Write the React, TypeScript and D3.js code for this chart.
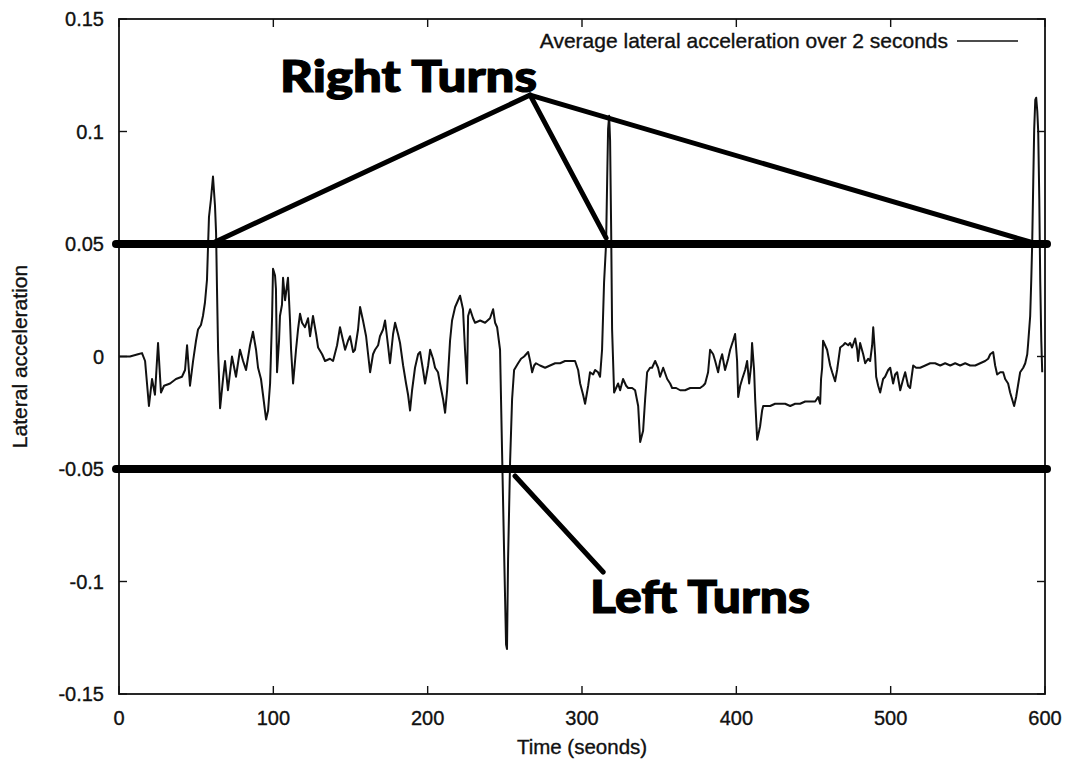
import React, { useEffect, useRef } from 'react';
import * as d3 from 'd3';

// time (s) of each sample
const times = [
  0, 7.1, 12.3, 14.9, 16.9, 19.4, 21.4, 23.3, 25.3, 27.2, 29.2, 33.1, 36.9, 40.8, 42.8, 44.1, 46.0, 48.0, 49.9, 51.2,
  53.1, 54.4, 55.7, 57.0, 58.3, 59.6, 60.9, 62.2, 62.9, 63.5, 64.2, 65.5, 67.4, 68.7, 70.6, 73.2, 75.8, 78.4, 80.4, 82.3,
  84.9, 86.8, 88.8, 90.1, 92.0, 93.3, 95.3, 96.6, 97.9, 99.2, 99.8, 101.1, 101.7, 102.4, 103.7, 104.3, 105.6, 106.3, 107.6, 109.5,
  110.8, 111.5, 112.8, 114.7, 116.0, 117.3, 118.6, 120.5, 122.5, 123.8, 125.7, 127.7, 129.0, 131.6, 133.5, 136.7, 138.7, 141.3, 143.2, 145.2,
  146.5, 148.4, 149.7, 151.7, 152.9, 154.9, 156.2, 158.1, 160.1, 161.4, 162.7, 164.6, 165.9, 167.9, 169.1, 171.1, 172.4, 174.3, 175.6, 177.6,
  178.9, 180.8, 182.1, 184.1, 186.0, 187.3, 188.6, 189.9, 191.8, 193.8, 195.1, 197.0, 198.3, 200.3, 201.6, 203.5, 204.8, 206.7, 208.0, 210.0,
  211.3, 212.6, 214.5, 215.8, 217.8, 219.7, 221.0, 222.9, 224.2, 225.5, 226.2, 227.5, 229.4, 230.7, 234.0, 237.2, 240.4, 242.4, 243.7, 245.0,
  246.9, 248.2, 249.5, 250.8, 251.4, 252.1, 253.4, 254.7, 256.0, 258.6, 260.5, 262.5, 265.1, 266.4, 267.7, 269.0, 270.2, 272.8, 276.1, 279.3,
  282.6, 285.8, 289.0, 292.3, 295.5, 297.5, 298.8, 300.7, 302.0, 304.0, 305.2, 307.2, 308.5, 310.4, 311.7, 313.0, 314.3, 315.6, 316.3, 316.9,
  317.6, 318.2, 318.9, 319.5, 320.8, 323.4, 324.7, 326.6, 328.6, 329.9, 332.5, 334.4, 336.4, 337.7, 339.6, 340.9, 342.2, 344.1, 345.4, 347.4,
  349.3, 350.6, 352.6, 355.2, 357.1, 358.4, 361.0, 363.6, 366.8, 370.1, 373.3, 376.5, 378.5, 379.8, 381.7, 383.0, 385.0, 386.3, 388.2, 389.5,
  390.8, 392.7, 394.7, 396.0, 397.9, 399.2, 400.5, 401.2, 402.5, 403.8, 405.7, 407.0, 408.3, 409.6, 410.2, 411.5, 412.2, 413.5, 414.8, 415.4,
  416.7, 417.4, 420.0, 421.9, 425.1, 428.4, 431.6, 434.9, 438.1, 441.3, 444.6, 447.8, 451.1, 453.0, 454.3, 454.9, 455.6, 456.2, 457.5, 458.8,
  460.8, 462.1, 464.0, 465.3, 467.3, 469.2, 470.5, 472.5, 473.7, 475.0, 477.0, 478.3, 478.9, 480.2, 482.2, 483.5, 485.4, 486.7, 488.0, 488.7,
  489.9, 490.6, 491.9, 493.2, 495.1, 496.4, 498.4, 499.7, 501.6, 502.9, 504.2, 506.2, 508.1, 509.4, 511.3, 512.6, 514.6, 516.5, 519.1, 522.4,
  525.6, 528.8, 532.1, 535.3, 538.6, 541.8, 545.0, 548.3, 551.5, 554.8, 558.0, 561.2, 563.2, 564.5, 566.4, 567.7, 569.0, 571.0, 572.9, 574.2,
  576.1, 577.4, 578.7, 580.0, 581.3, 582.0, 583.9, 585.9, 587.2, 588.5, 589.1, 590.4, 591.1, 591.7, 592.4, 593.0, 593.7, 594.3, 595.0, 595.6,
  596.3, 596.9, 597.6, 598.2
];

// average lateral acceleration over 2 seconds
const accel = [
  0.000, 0.000, 0.001, 0.0015, -0.002, -0.022, -0.010, -0.017, 0.006, -0.016, -0.013, -0.012, -0.010, -0.009, -0.006, 0.005, -0.013, -0.002, 0.007, 0.012,
  0.014, 0.018, 0.024, 0.034, 0.062, 0.070, 0.080, 0.067, 0.055, 0.030, 0.003, -0.023, -0.010, -0.002, -0.015, 0.000, -0.009, 0.003, -0.002, -0.006,
  0.005, 0.011, 0.003, -0.005, -0.010, -0.017, -0.028, -0.024, -0.012, 0.018, 0.039, 0.036, 0.030, -0.007, 0.007, 0.018, 0.023, 0.035, 0.025, 0.035,
  0.016, 0.003, -0.012, 0.003, 0.012, 0.019, 0.015, 0.013, 0.017, 0.009, 0.018, 0.010, 0.004, 0.001, -0.002, -0.001, -0.002, 0.005, 0.013, 0.007,
  0.003, 0.007, 0.009, 0.002, 0.003, 0.012, 0.022, 0.016, 0.009, 0.001, -0.007, 0.001, 0.003, 0.005, 0.009, 0.012, 0.016, 0.005, -0.003, 0.010,
  0.015, 0.010, 0.006, -0.004, -0.012, -0.017, -0.024, -0.015, -0.005, 0.001, 0.002, -0.006, -0.012, -0.004, 0.003, -0.001, -0.005, -0.007, -0.012, -0.019,
  -0.025, -0.015, 0.007, 0.016, 0.022, 0.025, 0.027, 0.021, 0.003, -0.012, 0.018, 0.021, 0.017, 0.015, 0.016, 0.015, 0.017, 0.021, 0.015, 0.013,
  0.003, -0.042, -0.086, -0.128, -0.130, -0.090, -0.047, -0.019, -0.006, -0.003, -0.001, 0.000, 0.002, -0.002, -0.007, -0.004, -0.003, -0.004, -0.005, -0.004,
  -0.003, -0.003, -0.002, -0.002, -0.002, -0.006, -0.012, -0.017, -0.021, -0.013, -0.007, -0.008, -0.006, -0.007, -0.009, 0.003, 0.033, 0.050, 0.078, 0.101,
  0.107, 0.096, 0.056, 0.012, -0.016, -0.012, -0.015, -0.010, -0.013, -0.014, -0.014, -0.015, -0.022, -0.038, -0.033, -0.019, -0.007, -0.005, -0.005, -0.002,
  -0.005, -0.009, -0.005, -0.010, -0.012, -0.014, -0.014, -0.015, -0.015, -0.014, -0.014, -0.014, -0.013, -0.012, -0.007, 0.003, 0.001, -0.002, -0.007, -0.002,
  0.001, -0.006, -0.001, 0.003, 0.007, 0.010, -0.002, -0.018, -0.013, -0.010, -0.006, -0.002, -0.012, -0.004, 0.006, -0.006, -0.019, -0.037, -0.033, -0.031,
  -0.024, -0.022, -0.022, -0.022, -0.021, -0.021, -0.021, -0.022, -0.021, -0.021, -0.020, -0.020, -0.020, -0.018, -0.021, -0.010, -0.005, 0.007, 0.005, 0.003,
  -0.004, -0.007, -0.011, -0.006, 0.004, 0.005, 0.006, 0.005, 0.006, 0.004, 0.008, 0.003, -0.002, 0.006, 0.001, -0.003, -0.001, -0.002, 0.005, 0.013,
  0.001, -0.009, -0.013, -0.016, -0.010, -0.009, -0.006, -0.005, -0.012, -0.008, -0.007, -0.015, -0.010, -0.007, -0.013, -0.014, -0.004, -0.005, -0.005, -0.004,
  -0.003, -0.003, -0.004, -0.003, -0.004, -0.003, -0.004, -0.003, -0.004, -0.004, -0.003, -0.002, -0.001, 0.001, 0.002, -0.004, -0.008, -0.007, -0.007, -0.010,
  -0.012, -0.016, -0.019, -0.022, -0.018, -0.015, -0.007, -0.005, -0.003, 0.001, 0.006, 0.018, 0.034, 0.050, 0.078, 0.101, 0.114, 0.115, 0.109, 0.100,
  0.070, 0.034, 0.007, -0.007
];

const xTicks = [0, 100, 200, 300, 400, 500, 600];
const xTickLabels = ['0', '100', '200', '300', '400', '500', '600'];
const yTicks = [-0.15, -0.1, -0.05, 0, 0.05, 0.1, 0.15];
const yTickLabels = ['-0.15', '-0.1', '-0.05', '0', '0.05', '0.1', '0.15'];

// threshold lines
const thresholds = [0.05, -0.05];

// annotation pointers: [t, value] pairs
const rightHub = [266.4, 0.1162];
const rightTargets = [[62.2, 0.0509], [315.6, 0.0527], [590.4, 0.0509]];
const leftPointer = [[256.6, -0.0531], [313.7, -0.0958]];

const W = 1071;
const H = 762;

const App = () => {
  const ref = useRef(null);

  useEffect(() => {
    d3.select(ref.current).selectAll('*').remove();

    const svg = d3.select(ref.current);
    const font = '"Liberation Sans", Arial, Helvetica, sans-serif';

    const x = d3.scaleLinear().domain([0, 600]).range([119, 1045]);
    const y = d3.scaleLinear().domain([-0.15, 0.15]).range([694, 19]);

    svg.append('rect').attr('width', W).attr('height', H).attr('fill', '#fff');

    svg.append('defs').append('clipPath').attr('id', 'plot-clip')
      .append('rect')
      .attr('x', x(0)).attr('y', y(0.15))
      .attr('width', x(600) - x(0)).attr('height', y(-0.15) - y(0.15));

    // data line
    const pts = times.map((t, i) => [t, accel[i]]);
    const line = d3.line().x(d => x(d[0])).y(d => y(d[1]));
    svg.append('path')
      .datum(pts)
      .attr('clip-path', 'url(#plot-clip)')
      .attr('d', line)
      .attr('fill', 'none')
      .attr('stroke', '#111')
      .attr('stroke-width', 2)
      .attr('stroke-linejoin', 'round');

    // frame
    svg.append('rect')
      .attr('x', x(0)).attr('y', y(0.15))
      .attr('width', x(600) - x(0)).attr('height', y(-0.15) - y(0.15))
      .attr('fill', 'none').attr('stroke', '#111').attr('stroke-width', 1.8);

    // inward ticks, mirrored
    const tickLen = 8;
    const tg = svg.append('g').attr('stroke', '#111').attr('stroke-width', 1.4);
    xTicks.forEach(t => {
      tg.append('line').attr('x1', x(t)).attr('x2', x(t)).attr('y1', y(-0.15)).attr('y2', y(-0.15) - tickLen);
      tg.append('line').attr('x1', x(t)).attr('x2', x(t)).attr('y1', y(0.15)).attr('y2', y(0.15) + tickLen);
    });
    yTicks.forEach(v => {
      tg.append('line').attr('x1', x(0)).attr('x2', x(0) + tickLen).attr('y1', y(v)).attr('y2', y(v));
      tg.append('line').attr('x1', x(600)).attr('x2', x(600) - tickLen).attr('y1', y(v)).attr('y2', y(v));
    });

    const textStyle = sel => sel
      .attr('font-family', font)
      .attr('fill', '#111')
      .attr('stroke', '#111')
      .attr('stroke-width', 0.35);

    // tick labels
    svg.append('g').selectAll('text')
      .data(xTicks).enter()
      .append('text')
      .attr('x', d => x(d))
      .attr('y', y(-0.15) + 31)
      .attr('text-anchor', 'middle')
      .attr('font-size', 20)
      .call(textStyle)
      .text((d, i) => xTickLabels[i]);

    svg.append('g').selectAll('text')
      .data(yTicks).enter()
      .append('text')
      .attr('x', x(0) - 15)
      .attr('y', d => y(d))
      .attr('dy', '0.35em')
      .attr('text-anchor', 'end')
      .attr('font-size', 20)
      .call(textStyle)
      .text((d, i) => yTickLabels[i]);

    // axis titles
    svg.append('text')
      .attr('x', (x(0) + x(600)) / 2)
      .attr('y', 754)
      .attr('text-anchor', 'middle')
      .attr('font-size', 20.5)
      .call(textStyle)
      .text('Time (seonds)');

    svg.append('text')
      .attr('transform', `translate(27, ${y(0)}) rotate(-90)`)
      .attr('text-anchor', 'middle')
      .attr('font-size', 21)
      .call(textStyle)
      .text('Lateral acceleration');

    // legend
    svg.append('text')
      .attr('x', 948)
      .attr('y', 48)
      .attr('text-anchor', 'end')
      .attr('font-size', 21)
      .call(textStyle)
      .text('Average lateral acceleration over 2 seconds');
    svg.append('line')
      .attr('x1', 957).attr('x2', 1018).attr('y1', 41).attr('y2', 41)
      .attr('stroke', '#111').attr('stroke-width', 1.3);

    // threshold bands
    svg.append('g').selectAll('line')
      .data(thresholds).enter()
      .append('line')
      .attr('x1', x(0) - 3).attr('x2', x(600) + 2)
      .attr('y1', d => y(d)).attr('y2', d => y(d))
      .attr('stroke', '#000')
      .attr('stroke-width', 8)
      .attr('stroke-linecap', 'round');

    // pointers
    const pg = svg.append('g').attr('stroke', '#000').attr('stroke-width', 5).attr('stroke-linecap', 'round');
    rightTargets.forEach(p => {
      pg.append('line')
        .attr('x1', x(rightHub[0])).attr('y1', y(rightHub[1]))
        .attr('x2', x(p[0])).attr('y2', y(p[1]));
    });
    pg.append('line')
      .attr('x1', x(leftPointer[0][0])).attr('y1', y(leftPointer[0][1]))
      .attr('x2', x(leftPointer[1][0])).attr('y2', y(leftPointer[1][1]));

    // annotations
    const heavy = '"Lato", "Open Sans", "Noto Sans", sans-serif';
    svg.append('text')
      .attr('x', 280).attr('y', 92)
      .attr('font-family', heavy).attr('font-weight', 900)
      .attr('font-size', 44)
      .attr('textLength', 257).attr('lengthAdjust', 'spacingAndGlyphs')
      .attr('fill', '#000').attr('stroke', '#000').attr('stroke-width', 1.2)
      .text('Right Turns');
    svg.append('text')
      .attr('x', 590).attr('y', 613)
      .attr('font-family', heavy).attr('font-weight', 900)
      .attr('font-size', 46)
      .attr('textLength', 220).attr('lengthAdjust', 'spacingAndGlyphs')
      .attr('fill', '#000').attr('stroke', '#000').attr('stroke-width', 1.2)
      .text('Left Turns');
  }, []);

  return (
    <svg
      ref={ref}
      width={W}
      height={H}
      style={{ position: 'absolute', left: 0, top: 0, display: 'block' }}
    />
  );
};

export default App;
